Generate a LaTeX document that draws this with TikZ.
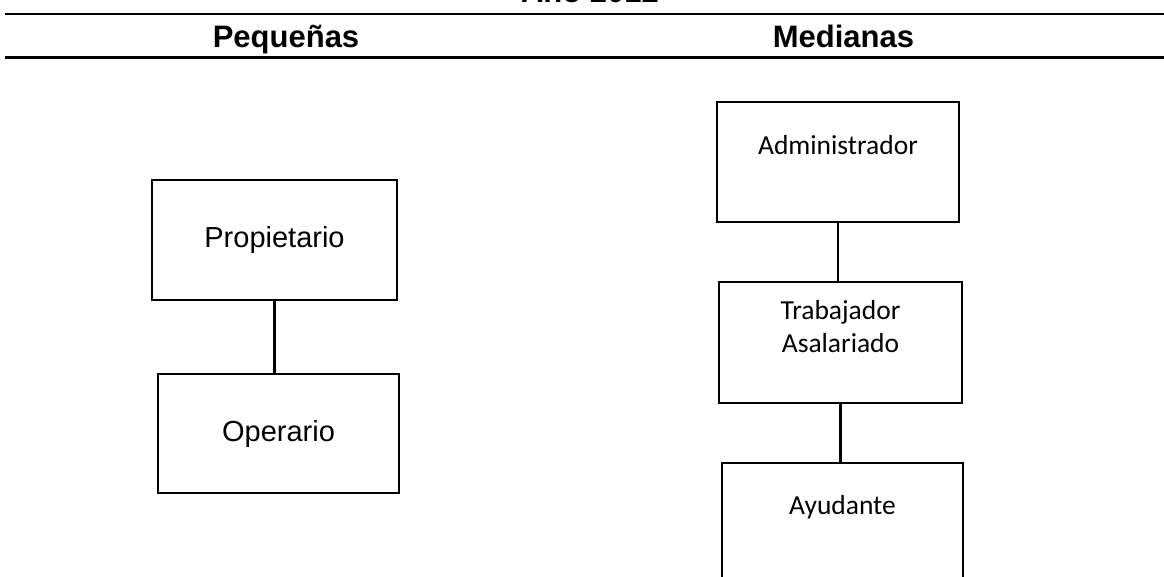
\documentclass[tikz,border=0pt]{standalone}
\usepackage{fontspec}
\setmainfont{Liberation Sans}
\newfontfamily\calib{Carlito}
\begin{document}
\begin{tikzpicture}[x=1pt,y=-1pt,
  rule/.style={line width=2.4pt},
  hdr/.style={font=\fontsize{31}{36}\selectfont\bfseries, inner sep=0pt, anchor=base},
  boxa/.style={draw, line width=2pt, minimum width=243pt, minimum height=120pt, inner sep=0pt, font=\fontsize{29}{34}\selectfont},
  boxb/.style={draw, line width=2pt, minimum width=242pt, minimum height=120pt, inner sep=0pt},
  txtb/.style={font=\calib\fontsize{27.5}{33}\selectfont, align=center, inner sep=0pt},
  link/.style={line width=2.2pt}]
\useasboundingbox (0,0) rectangle (1164,577);
\node[hdr] (title) at (590,3) {Año 2012};
\coordinate (t1) at (5,14); \coordinate (t2) at (1164,14);
\coordinate (b1) at (5,57.5); \coordinate (b2) at (1164,57.5);
\draw[rule] (t1) -- (t2);
\draw[rule] (b1) -- (b2);
\node[hdr] (peq) at (286,48) {Pequeñas};
\node[hdr] (med) at (843.5,48) {Medianas};
% left column
\node[boxa, minimum width=245pt] (prop) at (274.5,240) {Propietario};
\node[boxa, minimum width=241pt, minimum height=119pt] (oper) at (278.5,433.5) {Operario};
\draw[link] (prop.south) -- (prop.south |- oper.north);
% right column
\node[boxb] (adm) at (838,162) {};
\node[txtb] (admt) at (838,145) {Administrador};
\node[boxb, minimum width=243pt, minimum height=121pt] (trab) at (840.5,342.5) {};
\node[txtb] (trabt) at (840.5,327) {Trabajador\\Asalariado};
\node[boxb, minimum width=241pt] (ayu) at (842.5,523) {};
\node[txtb] (ayut) at (842.5,507) {Ayudante};
\draw[link] (adm.south) -- (adm.south |- trab.north);
\draw[link] (trab.south) -- (trab.south |- ayu.north);
\end{tikzpicture}
\end{document}
